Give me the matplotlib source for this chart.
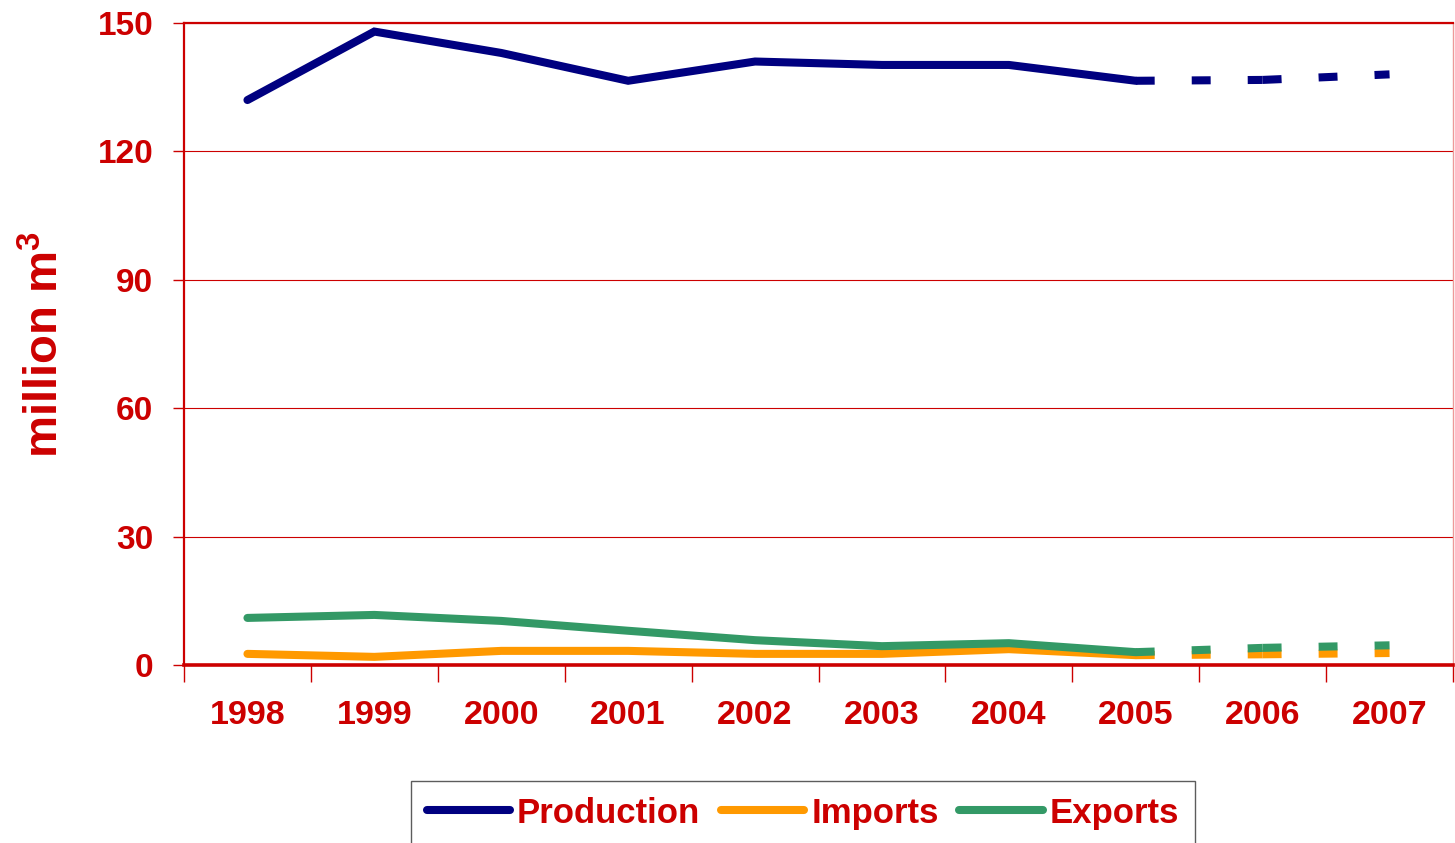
import matplotlib
matplotlib.use('Agg')
import matplotlib.pyplot as plt

years = ['1998', '1999', '2000', '2001', '2002', '2003', '2004', '2005', '2006', '2007']
production = [132, 148, 143, 136.5, 141, 140.2, 140.2, 136.5, 136.7, 138]
imports = [2.6, 1.9, 3.3, 3.3, 2.6, 2.6, 3.7, 2.3, 2.5, 2.8]
exports = [11, 11.7, 10.3, 8, 5.8, 4.4, 5.1, 3, 4, 4.6]
n_actual = 8  # 1998-2005 solid, then forecast dashed

red = '#CC0000'
plt.rcParams['font.family'] = ['Liberation Sans', 'DejaVu Sans']
plt.rcParams['font.weight'] = 'bold'
plt.rcParams['mathtext.fontset'] = 'custom'
plt.rcParams['mathtext.rm'] = 'Liberation Sans:bold'
plt.rcParams['mathtext.bf'] = 'Liberation Sans:bold'

fig = plt.figure(figsize=(14.55, 8.43), dpi=100)
ax = fig.add_axes([184 / 1455, 1 - 665 / 843, (1453 - 184) / 1455, (665 - 23) / 843])

x = list(range(len(years)))
series = [('Production', production, '#000080'),
          ('Imports', imports, '#FF9900'),
          ('Exports', exports, '#339966')]
for name, vals, col in series:
    ax.plot(x[:n_actual], vals[:n_actual], color=col, lw=5.8,
            solid_capstyle='round', solid_joinstyle='miter', label=name, zorder=3)
    # forecast: each segment dashed on its own, pattern restarts at each point
    for i in range(n_actual - 1, len(years) - 1):
        ax.plot(x[i:i + 2], vals[i:i + 2], color=col, lw=5.8,
                linestyle=(0, (2.35, 4.6)), dash_capstyle='butt', zorder=3)

ax.set_ylim(0, 150)
ax.set_xlim(-0.5, len(years) - 0.5)
ax.set_yticks([0, 30, 60, 90, 120, 150])
ax.set_xticks(x)
ax.set_xticklabels(years)
ax.set_xticks([i - 0.5 for i in range(len(years) + 1)], minor=True)
ax.tick_params(axis='x', which='major', length=0, pad=25, labelsize=24.5, labelcolor=red)
ax.tick_params(axis='x', which='minor', length=12, width=1, color=red, direction='out')
ax.tick_params(axis='y', length=8, width=1, color=red, pad=14, labelsize=24, labelcolor=red)

ax.grid(axis='y', color=red, lw=0.8, zorder=1)
ax.set_axisbelow(True)
for s in ['left', 'top']:
    ax.spines[s].set_color(red)
    ax.spines[s].set_linewidth(1.6)
ax.spines['bottom'].set_color(red)
ax.spines['bottom'].set_linewidth(2.6)
ax.spines['right'].set_color('#EE9999')
ax.spines['right'].set_linewidth(1)

fig.text(46 / 1455, 1 - 345 / 843, 'million m$^{3}$', rotation=90, color=red,
         fontsize=34, fontweight='bold', ha='center', va='center')

leg = fig.legend(loc='upper left', bbox_to_anchor=(411 / 1455, 1 - 781 / 843),
                 ncol=3, fontsize=25, frameon=True, fancybox=False,
                 edgecolor='#333333', handlelength=2.4, handletextpad=0.2,
                 columnspacing=0.6, borderpad=0.45, borderaxespad=0)
leg.get_frame().set_linewidth(1)
for t in leg.get_texts():
    t.set_color(red)
for h in leg.get_lines():
    h.set_linewidth(5.8)
    h.set_solid_capstyle('round')

fig.savefig('out.png', dpi=100)
